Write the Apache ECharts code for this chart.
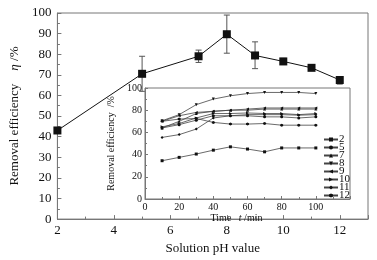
<!DOCTYPE html>
<html>
<head>
<meta charset="utf-8">
<script src="https://cdn.jsdelivr.net/npm/echarts@6/dist/echarts.min.js"></script>
<style>
  html, body { margin: 0; padding: 0; background: #fff; }
  #chart { width: 377px; height: 260px; }
</style>
</head>
<body>
<div id="chart"></div>
<script>
// === DATA ===
const phValues = [2, 5, 7, 8, 9, 10, 11, 12];
const efficiency = [43, 70.5, 79, 89.7, 79.4, 76.5, 73.4, 67.5];
const errLow = [42, 62, 76, 80.5, 73, 75, 72.5, 65.5];
const errHigh = [44, 79, 82, 99, 86, 78, 74.5, 69];

const times = [10, 20, 30, 40, 50, 60, 70, 80, 90, 100];
const insetNames = ['2', '5', '7', '8', '9', '10', '11', '12'];
const ph2 = [34.5, 37.5, 40.5, 44, 47, 45, 42.5, 46, 46, 46];
const ph5 = [64, 67, 71, 75, 75, 75, 74, 74, 73, 74];
const ph7 = [64, 70, 77, 79, 80, 80, 81, 81, 81, 81];
const ph8 = [70.5, 76, 85, 90, 93, 95, 96, 96, 96, 95];
const ph9 = [70, 75, 78, 79, 80, 81, 82, 82, 82, 82];
const ph10 = [65, 68, 73, 77, 77, 77.5, 77, 77, 76, 77];
const ph11 = [55.5, 58, 63, 73, 75, 76, 76, 76, 75.5, 76];
const ph12 = [70, 72, 72.5, 69, 67.5, 67.5, 68, 66.5, 66.5, 66.5];
const insetValues = [ph2, ph5, ph7, ph8, ph9, ph10, ph11, ph12];

// === STYLE ===
const font = 'Liberation Serif';
const axisGray = '#777';
const hexPath = 'path://M5,0L10,2.9L10,8.7L5,11.6L0,8.7L0,2.9Z';
const insetSymbols = [
    { symbol: 'rect', rotate: 0 },
    { symbol: 'circle', rotate: 0 },
    { symbol: 'triangle', rotate: 0 },
    { symbol: 'triangle', rotate: 180 },
    { symbol: 'triangle', rotate: 90 },
    { symbol: 'triangle', rotate: -90 },
    { symbol: 'diamond', rotate: 0 },
    { symbol: hexPath, rotate: 0 }
];

// === ERROR BARS ===
function renderErrorBar(params, api) {
    const x = api.value(0);
    const lo = api.coord([x, api.value(1)]);
    const hi = api.coord([x, api.value(2)]);
    const cap = 3;
    const style = { stroke: '#555', lineWidth: 1 };
    return {
        type: 'group',
        children: [
            { type: 'line', shape: { x1: lo[0], y1: lo[1], x2: hi[0], y2: hi[1] }, style },
            { type: 'line', shape: { x1: lo[0] - cap, y1: lo[1], x2: lo[0] + cap, y2: lo[1] }, style },
            { type: 'line', shape: { x1: hi[0] - cap, y1: hi[1], x2: hi[0] + cap, y2: hi[1] }, style }
        ]
    };
}

// === CHART ===
const chart = echarts.init(document.getElementById('chart'), null, { renderer: 'canvas' });

const insetSeries = insetValues.map((vals, i) => ({
    name: insetNames[i],
    type: 'line',
    xAxisIndex: 1,
    yAxisIndex: 1,
    z: 12,
    data: times.map((t, j) => [t, vals[j]]),
    symbol: insetSymbols[i].symbol,
    symbolRotate: insetSymbols[i].rotate,
    symbolSize: 3,
    lineStyle: { color: '#444', width: 0.8 },
    itemStyle: { color: '#111' },
    silent: true
}));

const option = {
    animation: false,
    textStyle: { fontFamily: font },
    grid: [
        { left: 52, top: 13, right: 9, bottom: 40, show: true, borderColor: axisGray, borderWidth: 1 },
        { left: 145, top: 88, right: 27, bottom: 61, show: true, borderColor: axisGray, borderWidth: 1, backgroundColor: '#fff', z: 10 }
    ],
    legend: {
        data: insetNames,
        orient: 'vertical',
        left: 318,
        top: 129,
        itemGap: -3,
        itemWidth: 14,
        itemHeight: 5,
        z: 14,
        itemStyle: { borderWidth: 0 },
        textStyle: { fontFamily: font, fontSize: 11, color: '#111', lineHeight: 11, padding: [0, 0, 0, -4] }
    },
    xAxis: [
        {
            type: 'value', gridIndex: 0, min: 2, max: 13, interval: 2,
            name: 'Solution pH value', nameLocation: 'middle', nameGap: 20,
            nameTextStyle: { fontFamily: font, fontSize: 13, color: '#111' },
            axisLine: { lineStyle: { color: axisGray } },
            axisTick: { inside: true, length: 4, lineStyle: { color: axisGray } },
            minorTick: { show: true, splitNumber: 2, length: 2.5, lineStyle: { color: axisGray } },
            axisLabel: { fontFamily: font, fontSize: 13, color: '#111', margin: 5, formatter: v => (v > 12 ? '' : v) },
            splitLine: { show: false }
        },
        {
            type: 'value', gridIndex: 1, min: 0, max: 120, interval: 20, z: 12,
            name: 'Time   {i|t} /min', nameLocation: 'middle', nameGap: 11,
            nameTextStyle: {
                fontFamily: font, fontSize: 10, color: '#111', padding: [0, 22, 0, 0],
                rich: { i: { fontFamily: font, fontSize: 10, fontStyle: 'italic', color: '#111' } }
            },
            axisLine: { lineStyle: { color: axisGray } },
            axisTick: { inside: true, length: 3, lineStyle: { color: axisGray } },
            minorTick: { show: true, splitNumber: 2, length: 2, lineStyle: { color: axisGray } },
            axisLabel: { fontFamily: font, fontSize: 10, color: '#111', margin: 3, formatter: v => (v > 100 ? '' : v) },
            splitLine: { show: false }
        }
    ],
    yAxis: [
        {
            type: 'value', gridIndex: 0, min: 0, max: 100, interval: 10,
            name: 'Removal efficiency    {i|η} /%', nameLocation: 'middle', nameGap: 32,
            nameTextStyle: {
                fontFamily: font, fontSize: 13, color: '#111',
                rich: { i: { fontFamily: font, fontSize: 13, fontStyle: 'italic', color: '#111' } }
            },
            axisLine: { lineStyle: { color: axisGray } },
            axisTick: { inside: true, length: 4, lineStyle: { color: axisGray } },
            minorTick: { show: true, splitNumber: 2, length: 2.5, lineStyle: { color: axisGray } },
            axisLabel: { fontFamily: font, fontSize: 13, color: '#111', margin: 6 },
            splitLine: { show: false }
        },
        {
            type: 'value', gridIndex: 1, min: 0, max: 100, interval: 20, z: 12,
            name: 'Removal efficiency  /%', nameLocation: 'middle', nameGap: 20,
            nameTextStyle: { fontFamily: font, fontSize: 10, color: '#111' },
            axisLine: { lineStyle: { color: axisGray } },
            axisTick: { inside: true, length: 3, lineStyle: { color: axisGray } },
            minorTick: { show: true, splitNumber: 2, length: 2, lineStyle: { color: axisGray } },
            axisLabel: { fontFamily: font, fontSize: 10, color: '#111', margin: 3 },
            splitLine: { show: false }
        }
    ],
    series: [
        {
            type: 'custom',
            xAxisIndex: 0,
            yAxisIndex: 0,
            z: 1,
            renderItem: renderErrorBar,
            data: phValues.map((x, i) => [x, errLow[i], errHigh[i]]),
            silent: true
        },
        {
            type: 'line',
            xAxisIndex: 0,
            yAxisIndex: 0,
            z: 2,
            data: phValues.map((x, i) => [x, efficiency[i]]),
            symbol: 'rect',
            symbolSize: 8,
            lineStyle: { color: '#111', width: 1 },
            itemStyle: { color: '#111' },
            silent: true
        },
        ...insetSeries
    ]
};

chart.setOption(option);
</script>
</body>
</html>
